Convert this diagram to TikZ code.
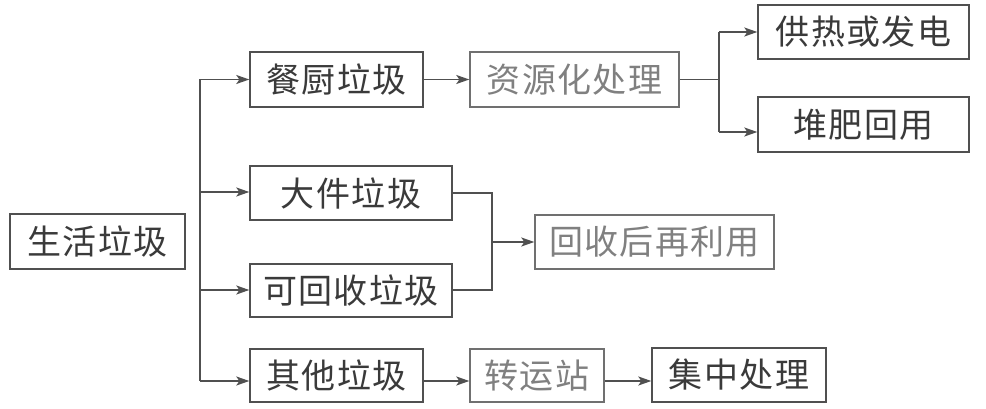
\documentclass[tikz,border=0pt]{standalone}
\usepackage{fontspec}
\newfontfamily\cjk[LetterSpace=4]{Noto Sans CJK SC}
\usetikzlibrary{arrows.meta}
\definecolor{ink}{HTML}{3A3A3A}
\definecolor{lineink}{HTML}{505050}
\definecolor{pale}{HTML}{808080}
\definecolor{paleline}{HTML}{707070}
\tikzset{
  box/.style={draw=lineink, line width=1.4pt, rectangle, inner sep=0pt, text=ink,
    font=\cjk\fontsize{34}{36}\selectfont, anchor=center},
  palebox/.style={box, draw=paleline, text=pale},
  conn/.style={draw=lineink, line width=1.4pt},
  arr/.style={conn, -{Stealth[length=13pt,width=9pt,inset=3pt]}}
}
\begin{document}
\begin{tikzpicture}[x=1pt,y=-1pt]
\useasboundingbox (0,0) rectangle (986,409);
\node[box, minimum width=175pt, minimum height=55pt] (sh) at (97.5,241.5) {生活垃圾};
\node[box, minimum width=173pt, minimum height=55pt] (ch) at (336.5,79.5) {餐厨垃圾};
\node[box, minimum width=202pt, minimum height=54pt] (dj) at (351,193) {大件垃圾};
\node[box, minimum width=202pt, minimum height=53pt] (khs) at (351,290.5) {可回收垃圾};
\node[box, minimum width=173pt, minimum height=53pt] (qt) at (336.5,375.5) {其他垃圾};
\node[palebox, minimum width=209pt, minimum height=55pt] (zy) at (574.5,79.5) {资源化处理};
\node[box, minimum width=211pt, minimum height=54pt] (gr) at (863.5,32) {供热或发电};
\node[box, minimum width=211pt, minimum height=55pt] (df) at (863.5,124.5) {堆肥回用};
\node[palebox, minimum width=239pt, minimum height=54pt] (hs) at (654.5,242) {回收后再利用};
\node[palebox, minimum width=134pt, minimum height=53pt] (zyz) at (537,375.5) {转运站};
\node[box, minimum width=174pt, minimum height=54pt] (jz) at (739,375) {集中处理};
% trunk
\coordinate (t1) at (200,79.5);
\coordinate (t2) at (200,192);
\coordinate (t3) at (200,290);
\coordinate (t4) at (200,381);
\draw[conn] (t1) -- (t4);
\draw[arr] (t1) -- (ch.west);
\draw[arr] (t2) -- (t2 -| dj.west);
\draw[arr] (t3) -- (t3 -| khs.west);
\draw[arr] (t4) -- (t4 -| qt.west);
% food waste
\draw[arr] (ch.east) -- (zy.west);
\coordinate (j1) at (719,79.5);
\coordinate (j1a) at (719,32);
\coordinate (j1b) at (719,132);
\draw[conn] (zy.east) -- (j1);
\draw[conn] (j1a) -- (j1b);
\draw[arr] (j1a) -- (gr.west);
\draw[arr] (j1b) -- (j1b -| df.west);
% recyclables
\coordinate (j2a) at (492,193);
\coordinate (j2b) at (492,290);
\coordinate (j2m) at (492,242);
\draw[conn] (dj.east) -- (j2a) -- (j2b) -- (khs.east |- j2b);
\draw[arr] (j2m) -- (hs.west);
% other
\coordinate (r) at (0,381);
\draw[arr] (qt.east |- r) -- (zyz.west |- r);
\draw[arr] (zyz.east |- r) -- (jz.west |- r);
\end{tikzpicture}
\end{document}
